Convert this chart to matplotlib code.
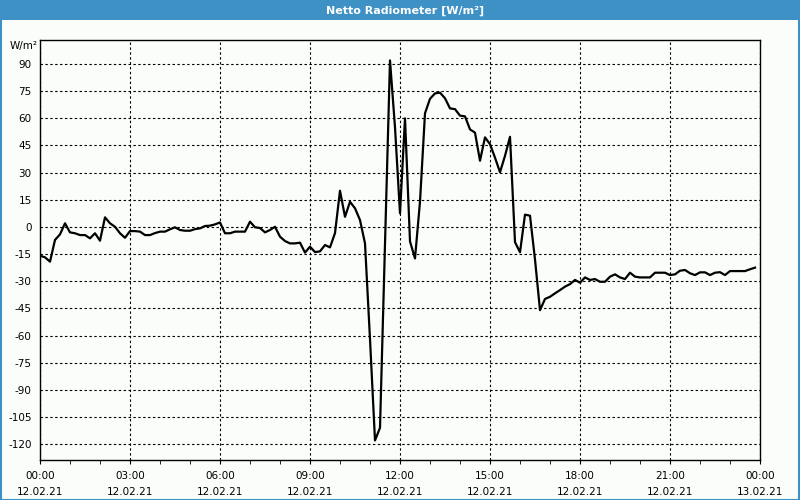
# grafico della radiazione netta del 12.02.21, ricostruito dallo screenshot
import matplotlib
matplotlib.use("Agg")
import matplotlib.pyplot as plt
import matplotlib.dates as mdates
from matplotlib.patches import Rectangle
import pandas as pd

plt.rcParams["axes.unicode_minus"] = False  # trattino semplice come nell'originale

# dati: un valore ogni 10 minuti a partire dalle 00:00
inizio = "2021-02-12 00:00"
fine = "2021-02-13 00:00"
valori = [
    -15.9, -16.8, -19.2, -7.2, -4.1, 2.0, -3.0, -3.5, -4.5, -4.5,
    -6.3, -3.5, -7.6, 5.3, 2.0, 0.1, -3.5, -6.0, -2.3, -2.3,
    -2.6, -4.5, -4.5, -3.4, -2.6, -2.6, -1.3, -0.2, -1.7, -2.1,
    -2.1, -1.2, -0.8, 0.5, 0.7, 1.4, 2.5, -3.5, -3.5, -2.6,
    -2.6, -2.6, 2.9, -0.2, -0.6, -3.0, -1.7, 0.1, -5.4, -7.8,
    -9.1, -9.1, -8.7, -14.2, -10.9, -13.9, -13.5, -10.0, -11.3, -3.4,
    20.0, 5.6, 13.9, 10.3, 3.8, -9.1, -62.0, -118.0, -111.0, -10.0,
    92.0, 55.0, 7.5, 60.0, -8.0, -17.4, 14.0, 62.8, 70.8, 73.8,
    74.2, 71.1, 65.5, 65.1, 61.5, 61.1, 53.9, 52.1, 36.6, 49.5,
    45.7, 38.3, 30.2, 39.3, 49.8, -8.4, -14.0, 6.8, 6.2, -18.0,
    -46.0, -39.8, -38.6, -36.7, -34.9, -33.0, -31.6, -29.3, -30.8, -27.9,
    -29.3, -28.8, -30.3, -30.3, -27.5, -26.2, -27.9, -28.8, -25.3, -27.5,
    -27.9, -27.9, -27.9, -25.3, -25.3, -25.3, -26.6, -26.2, -24.2, -23.8,
    -25.6, -26.6, -25.1, -25.1, -26.6, -25.3, -25.0, -26.6, -24.4, -24.4,
    -24.4, -24.4, -23.4, -22.5,
]
tempi = pd.date_range(inizio, periods=len(valori), freq="10min")
tacche_y = list(range(-120, 91, 15))

blu = "#3d91c5"
sfondo = "#fbfdfb"

fig = plt.figure(figsize=(8, 5), dpi=100, facecolor=sfondo)

# barra del titolo in alto e cornice blu
fig.patches.append(Rectangle((0, 0.96), 1, 0.04, transform=fig.transFigure,
                             facecolor=blu, edgecolor="none", zorder=0))
fig.patches.append(Rectangle((0.001, 0.001), 0.998, 0.998, transform=fig.transFigure,
                             facecolor="none", edgecolor=blu, linewidth=1.5, zorder=5))
fig.text(0.506, 0.979, "Netto Radiometer [W/m²]", color="white", fontsize=8,
         fontweight="bold", ha="center", va="center")

ax = fig.add_axes([0.05, 0.08, 0.9, 0.84])
ax.set_facecolor(sfondo)
ax.plot(tempi, valori, color="black", linewidth=1.6)

ax.set_xlim(pd.Timestamp(inizio), pd.Timestamp(fine))
ax.set_ylim(-128.8, 103.3)
ax.set_yticks(tacche_y)

ax.xaxis.set_major_locator(mdates.HourLocator(byhour=range(0, 24, 3)))
ax.xaxis.set_minor_locator(mdates.HourLocator())
ax.xaxis.set_major_formatter(mdates.DateFormatter("%H:%M\n%d.%m.%y"))

ax.grid(True, which="major", color="black", linestyle=(0, (2.2, 2.2)), linewidth=0.8)
ax.tick_params(axis="y", length=0, pad=6, labelsize=7.5)
ax.tick_params(axis="x", which="major", length=3, pad=5, labelsize=7.5)
ax.tick_params(axis="x", which="minor", length=3)
for t in ax.get_xticklabels():
    t.set_linespacing(1.7)
for s in ax.spines.values():
    s.set_linewidth(1.0)

fig.text(0.029, 0.908, "W/m²", fontsize=7.5, ha="center", va="center")

fig.savefig("out.png", dpi=100, facecolor=sfondo)
